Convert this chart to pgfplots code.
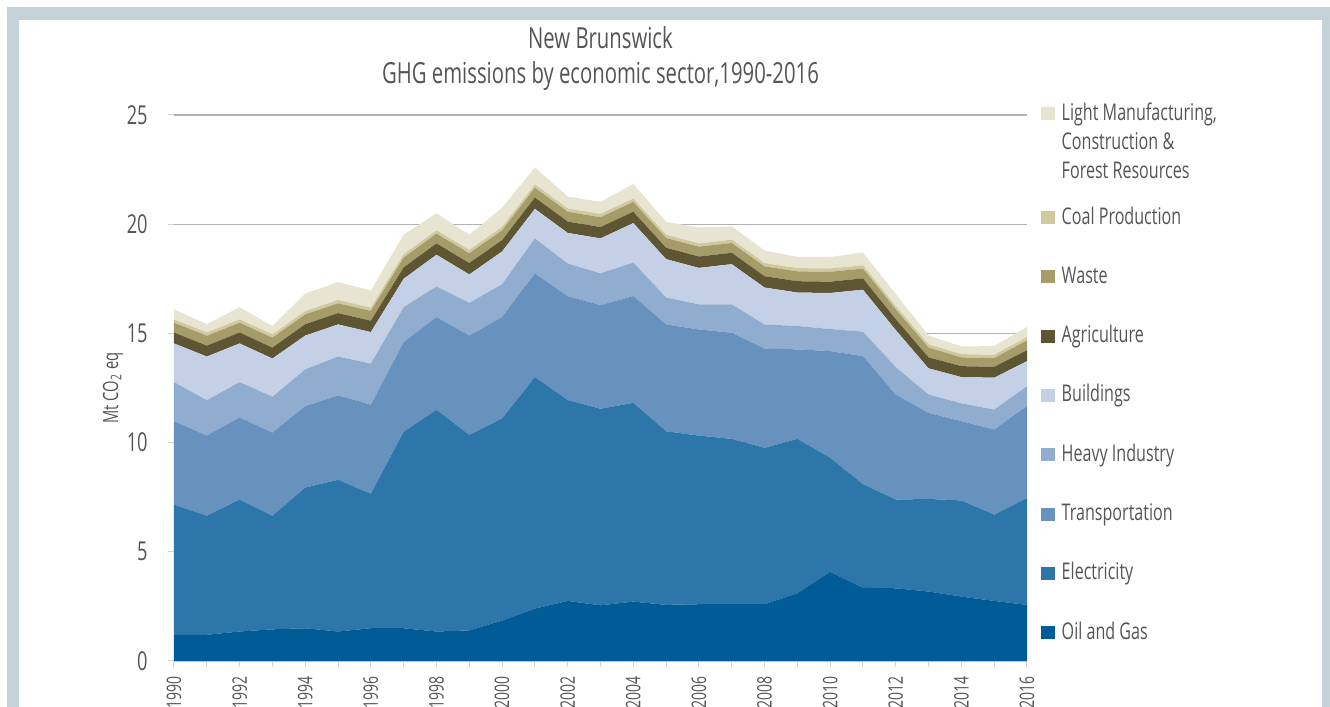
\documentclass[border=0pt]{standalone}
\usepackage{pgfplots}
\usepackage{pgfplotstable}
\pgfplotsset{compat=1.18}
\usepackage{fontspec}
\setmainfont{Open Sans}[FakeStretch=0.70]
\definecolor{cOG}{RGB}{0,91,150}
\definecolor{cEl}{RGB}{44,118,170}
\definecolor{cTr}{RGB}{104,146,190}
\definecolor{cHI}{RGB}{144,172,206}
\definecolor{cBu}{RGB}{196,208,229}
\definecolor{cAg}{RGB}{94,86,50}
\definecolor{cWa}{RGB}{166,156,106}
\definecolor{cCo}{RGB}{208,200,158}
\definecolor{cLM}{RGB}{232,228,210}
\definecolor{frame}{RGB}{196,211,216}
\definecolor{txt}{RGB}{85,85,85}
\definecolor{xaxis}{RGB}{170,200,225}

\pgfplotstableread{
year OG El Tr HI Bu Ag Wa Co LM
1990 1.20 5.96 3.82 1.79 1.77 0.50 0.45 0.15 0.46
1991 1.20 5.45 3.67 1.62 2.00 0.50 0.45 0.15 0.38
1992 1.35 6.04 3.76 1.62 1.77 0.50 0.45 0.15 0.56
1993 1.45 5.20 3.81 1.64 1.75 0.50 0.45 0.15 0.38
1994 1.50 6.44 3.73 1.68 1.55 0.52 0.45 0.15 0.80
1995 1.35 6.95 3.86 1.78 1.47 0.52 0.45 0.15 0.82
1996 1.50 6.16 4.08 1.88 1.44 0.52 0.45 0.15 0.78
1997 1.50 9.00 4.10 1.60 1.30 0.52 0.45 0.15 0.90
1998 1.35 10.15 4.25 1.40 1.45 0.52 0.45 0.15 0.78
1999 1.40 8.95 4.55 1.50 1.30 0.52 0.45 0.15 0.70
2000 1.85 9.25 4.65 1.50 1.50 0.52 0.45 0.15 0.88
2001 2.40 10.60 4.75 1.60 1.35 0.52 0.45 0.15 0.78
2002 2.75 9.20 4.75 1.50 1.40 0.52 0.45 0.15 0.55
2003 2.55 9.00 4.75 1.45 1.60 0.52 0.45 0.15 0.55
2004 2.72 9.10 4.89 1.53 1.81 0.52 0.45 0.15 0.68
2005 2.57 7.95 4.89 1.23 1.76 0.52 0.45 0.15 0.58
2006 2.60 7.72 4.86 1.15 1.67 0.52 0.45 0.15 0.73
2007 2.60 7.57 4.86 1.30 1.84 0.52 0.45 0.15 0.61
2008 2.60 7.16 4.54 1.11 1.69 0.52 0.45 0.15 0.58
2009 3.10 7.07 4.10 1.07 1.53 0.52 0.45 0.15 0.51
2010 4.08 5.22 4.89 1.01 1.65 0.52 0.45 0.15 0.53
2011 3.35 4.75 5.86 1.12 1.92 0.52 0.45 0.15 0.58
2012 3.33 4.06 4.81 1.25 1.70 0.50 0.45 0.15 0.55
2013 3.18 4.24 3.94 0.84 1.20 0.50 0.45 0.15 0.40
2014 2.95 4.40 3.63 0.82 1.20 0.50 0.40 0.15 0.35
2015 2.75 3.95 3.90 0.91 1.46 0.50 0.40 0.15 0.40
2016 2.57 4.89 4.21 0.91 1.15 0.50 0.45 0.15 0.47
}\datatable

\begin{document}
\begin{tikzpicture}
\useasboundingbox (0,0) rectangle (665pt,353.5pt);
\clip (0,0) rectangle (665pt,353.5pt);
\fill[frame] (3.5pt,-5pt) rectangle (670pt,350pt);
\fill[white] (9.5pt,-5pt) rectangle (661pt,343.5pt);
\begin{axis}[
  at={(87pt,23pt)}, anchor=south west,
  scale only axis, width=426.5pt, height=273pt,
  xmin=1990, xmax=2016, ymin=0, ymax=25,
  stack plots=y,
  axis x line*=bottom, axis y line*=left,
  x axis line style={draw=xaxis, line width=1.2pt},
  y axis line style={draw=none},
  xtick={1990,1992,...,2016},
  minor xtick={1991,1993,...,2015},
  ytick={0,5,...,25},
  tick align=outside,
  major tick length=3pt, minor tick length=3pt,
  tick style={draw=gray!35, line width=0.5pt},
  ymajorgrids,
  major grid style={draw=gray!60, line width=0.6pt},
  /pgf/number format/assume math mode=true,
  /pgf/number format/1000 sep={},
  xticklabel style={font=\fontsize{10}{12}\selectfont, text=txt, rotate=90, anchor=east, inner sep=0pt, xshift=-4.5pt},
  yticklabel style={font=\fontsize{13}{15}\selectfont, text=txt, anchor=east, inner sep=0pt, xshift=-10pt},
  ylabel={Mt CO\textsubscript{2} eq},
  ylabel style={font=\fontsize{10.5}{12}\selectfont, text=txt, at={(axis description cs:-0.0715,0.5)}, anchor=center},
  title={New Brunswick\\GHG emissions by economic sector,1990-2016},
  title style={font=\fontsize{14.5}{17.5}\selectfont, text=txt, align=center, inner sep=0pt, at={(axis description cs:0.5,1.0348)}, anchor=base},
  reverse legend,
  legend image code/.code={\fill[#1] (0pt,0pt) rectangle (7pt,6.5pt);},
  legend style={at={(axis description cs:1.0161,1.0201)}, anchor=north west, draw=none, fill=none, inner sep=0pt, outer sep=0pt,
    font=\fontsize{11.5}{14.5}\selectfont, text=txt, row sep=20.15pt, column sep=3.5pt,
    nodes={inner sep=0pt, anchor=base west}},
  legend cell align=left,
]
\addplot[fill=cOG, draw=none] table[x=year,y=OG]{\datatable} \closedcycle;
\addlegendentry{\raisebox{0pt}[8pt][2pt]{Oil and Gas}}
\addplot[fill=cEl, draw=none] table[x=year,y=El]{\datatable} \closedcycle;
\addlegendentry{\raisebox{0pt}[8pt][2pt]{Electricity}}
\addplot[fill=cTr, draw=none] table[x=year,y=Tr]{\datatable} \closedcycle;
\addlegendentry{\raisebox{0pt}[8pt][2pt]{Transportation}}
\addplot[fill=cHI, draw=none] table[x=year,y=HI]{\datatable} \closedcycle;
\addlegendentry{\raisebox{0pt}[8pt][2pt]{Heavy Industry}}
\addplot[fill=cBu, draw=none] table[x=year,y=Bu]{\datatable} \closedcycle;
\addlegendentry{\raisebox{0pt}[8pt][2pt]{Buildings}}
\addplot[fill=cAg, draw=none] table[x=year,y=Ag]{\datatable} \closedcycle;
\addlegendentry{\raisebox{0pt}[8pt][2pt]{Agriculture}}
\addplot[fill=cWa, draw=none] table[x=year,y=Wa]{\datatable} \closedcycle;
\addlegendentry{\raisebox{0pt}[8pt][2pt]{Waste}}
\addplot[fill=cCo, draw=none] table[x=year,y=Co]{\datatable} \closedcycle;
\addlegendentry{\raisebox{0pt}[30.36pt][2pt]{Coal Production}}
\addplot[fill=cLM, draw=none] table[x=year,y=LM]{\datatable} \closedcycle;
\addlegendentry{\raisebox{0pt}[8pt][2pt]{\begin{tabular}[t]{@{}l@{}}Light Manufacturing,\\Construction \&\\Forest Resources\end{tabular}}}
\end{axis}
\end{tikzpicture}
\end{document}
